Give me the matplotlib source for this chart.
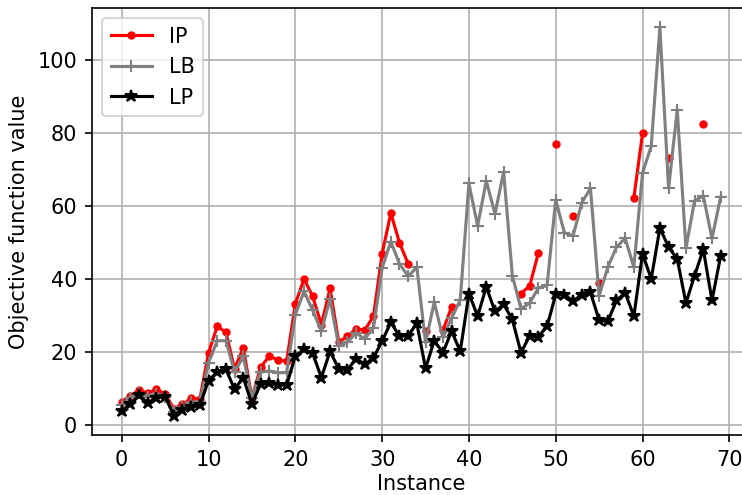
import numpy as np
import matplotlib
matplotlib.use('Agg')
import matplotlib.pyplot as plt

nan = np.nan

# Objective values per instance
ipValues = [6.2, 8.0, 9.6, 8.7, 9.8, 8.5, 4.5, 5.7, 7.3, 7.1,
            19.8, 27.0, 25.4, 15.4, 21.1, 7.5, 15.8, 18.9, 17.8, 17.5,
            33.2, 40.0, 35.2, 27.5, 37.4, 22.7, 24.3, 26.3, 26.0, 29.8,
            46.9, 58.0, 49.9, 44.1, nan, 25.7, nan, 25.9, 32.3, nan,
            nan, nan, nan, nan, nan, nan, 36.0, 38.1, 47.1, nan,
            77.0, nan, 57.2, nan, nan, 38.9, nan, nan, nan, 62.2,
            79.8, nan, nan, 73.2, nan, nan, nan, 82.3, nan, nan]

lbValues = [5.5, 7.5, 8.8, 7.8, 8.6, 7.8, 3.6, 5.0, 6.3, 6.3,
            17.1, 23.1, 23.1, 14.5, 18.8, 7.5, 14.5, 14.8, 14.3, 14.4,
            30.2, 36.6, 31.4, 25.7, 34.5, 21.6, 22.7, 25.2, 23.6, 26.6,
            43.0, 50.2, 44.1, 40.7, 43.2, 22.6, 33.6, 24.0, 29.2, 34.3,
            66.1, 54.5, 66.8, 57.8, 69.3, 40.9, 31.8, 33.4, 37.5, 38.2,
            61.6, 52.6, 51.8, 60.8, 64.8, 35.4, 43.2, 48.7, 51.1, 43.2,
            69.0, 76.3, 108.8, 64.8, 86.3, 48.4, 61.4, 62.7, 51.1, 62.4]

lpValues = [3.8, 5.8, 8.1, 6.1, 7.5, 7.8, 2.6, 4.2, 5.0, 5.4,
            12.2, 14.5, 15.3, 9.8, 13.0, 5.7, 11.3, 11.5, 10.9, 11.0,
            18.9, 20.7, 19.6, 13.0, 20.2, 15.4, 15.1, 18.2, 16.6, 18.4,
            23.0, 28.1, 24.3, 24.5, 27.8, 15.5, 23.1, 19.8, 25.7, 20.2,
            36.0, 29.8, 37.8, 31.1, 33.0, 28.9, 19.8, 24.5, 24.2, 27.0,
            35.8, 35.7, 33.9, 35.7, 36.3, 28.7, 28.4, 34.1, 36.2, 29.8,
            46.9, 40.0, 53.9, 48.7, 45.4, 33.4, 40.9, 48.1, 34.1, 46.3]

instances = np.arange(len(lpValues))

fig = plt.figure(figsize=(742 / 150, 495 / 150), dpi=150)
# axes run a little past the right edge of the canvas
ax = fig.add_axes([0.1237, 0.1212, 0.8879, 0.8626])

ax.plot(instances, ipValues, '.-', color='r', label='IP')
ax.plot(instances, lbValues, '+-', color='gray', label='LB')
ax.plot(instances, lpValues, '*-', color='k', label='LP')

ax.set_xlabel('Instance', labelpad=2)
ax.set_ylabel('Objective function value')
ax.grid(True)
ax.legend(loc='upper left')

fig.savefig('out.png', dpi=150)
